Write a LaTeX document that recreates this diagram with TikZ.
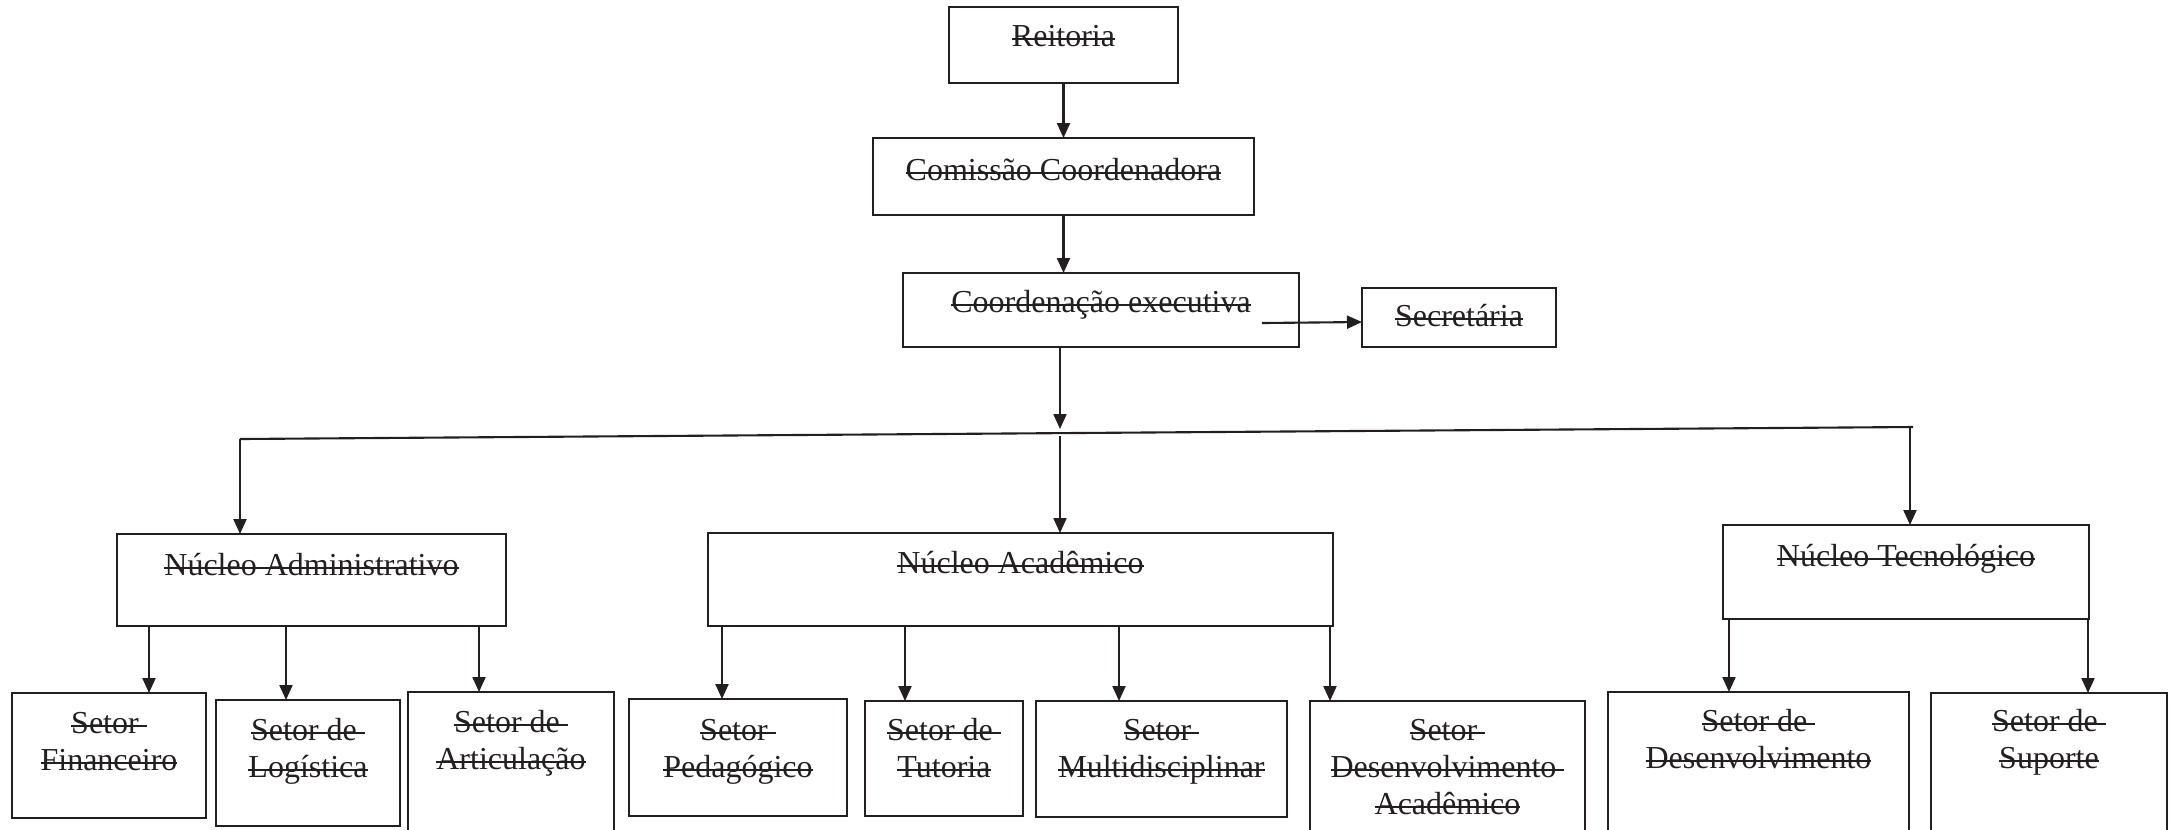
\documentclass[tikz,border=0pt]{standalone}
\usepackage{fontspec}
\setmainfont{Liberation Serif}
\usetikzlibrary{arrows.meta}
\definecolor{ink}{RGB}{35,31,32}
\newsavebox\strkbox
\newcommand\strk[1]{\sbox\strkbox{#1}\rlap{\rule[0.45ex]{\wd\strkbox}{0.55pt}}\usebox\strkbox}
\newcommand\bx[5]{\node[bxs, minimum width={(#4-#2)*0.01cm}, minimum height={(#5-#3)*0.01cm}] (#1) at ({(#2+#4)/2},{(#3+#5)/2}) {};}
\newcommand\tx[4]{\node[txs] (#1) at (#2,#3) {#4};}
\begin{document}
\begin{tikzpicture}[x=0.01cm,y=-0.01cm,
 bxs/.style={draw=ink, line width=0.6pt, inner sep=0pt, outer sep=0pt, rectangle},
 txs/.style={anchor=north, inner sep=0pt, align=center, font=\fontsize{9.1}{10.5}\selectfont, text=ink},
 arr/.style={draw=ink, line width=0.6pt, -{Triangle[length=0.15cm,width=0.13cm]}},
 ln/.style={draw=ink, line width=0.6pt}]
\clip (0,0) rectangle (2174,829);
% boxes
\bx{reit}{949}{7}{1178}{83}
\bx{com}{873}{138}{1254}{215}
\bx{coord}{903}{273}{1299}{347}
\bx{sec}{1362}{288}{1556}{347}
\bx{adm}{117}{534}{506}{626}
\bx{acad}{708}{533}{1333}{626}
\bx{tec}{1723}{525}{2089}{619}
\bx{fin}{12}{693}{206}{818}
\bx{log}{216}{700}{400}{826}
\bx{art}{408}{692}{614}{880}
\bx{ped}{629}{699}{847}{816}
\bx{tut}{865}{701}{1023}{816}
\bx{mul}{1036}{701}{1287}{817}
\bx{dac}{1310}{701}{1585}{880}
\bx{dev}{1608}{692}{1909}{880}
\bx{sup}{1931}{693}{2167}{880}
% texts
\tx{treit}{1063.5}{20}{\strut\strk{Reitoria}}
\tx{tcom}{1063.5}{154}{\strut\strk{Comissão Coordenadora}}
\tx{tcoord}{1101}{286}{\strut\strk{Coordenação executiva}}
\tx{tsec}{1459}{300}{\strut\strk{Secretária}}
\tx{tadm}{311.5}{549}{\strut\strk{Núcleo Administrativo}}
\tx{tacad}{1020.5}{547}{\strut\strk{Núcleo Acadêmico}}
\tx{ttec}{1906}{540}{\strut\strk{Núcleo Tecnológico}}
\tx{tfin}{109}{707}{\strut\strk{Setor\ }\\\strk{Financeiro}}
\tx{tlog}{308}{714}{\strut\strk{Setor de\ }\\\strk{Logística}}
\tx{tart}{511}{706}{\strut\strk{Setor de\ }\\\strk{Articulação}}
\tx{tped}{738}{714}{\strut\strk{Setor\ }\\\strk{Pedagógico}}
\tx{ttut}{944}{714}{\strut\strk{Setor de\ }\\\strk{Tutoria}}
\tx{tmul}{1161.5}{714}{\strut\strk{Setor\ }\\\strk{Multidisciplinar}}
\tx{tdac}{1447.5}{714}{\strut\strk{Setor\ }\\\strk{Desenvolvimento\ }\\\strk{Acadêmico}}
\tx{tdev}{1758.5}{705}{\strut\strk{Setor de\ }\\\strk{Desenvolvimento}}
\tx{tsup}{2049}{705}{\strut\strk{Setor de\ }\\\strk{Suporte}}
% connectors
\draw[arr] (reit.south) -- (com.north);
\draw[arr] (com.south) -- (com.south |- coord.north);
\draw[arr] ([xshift=-0.37cm,yshift=-0.13cm]coord.east) -- ([yshift=-0.045cm]sec.west);
\coordinate (hl) at (240,439);
\coordinate (hm) at (1060,433);
\coordinate (hr) at (1910,427);
\coordinate (hre) at (1913,427);
\draw[arr] (coord.south -| hm) -- ([yshift=0.04cm]hm);
\draw[ln] (hl) -- (hre);
\draw[arr] (hl) -- (hl |- adm.north);
\draw[arr] ([yshift=-0.03cm]hm) -- (hm |- acad.north);
\draw[arr] (hr) -- (hr |- tec.north);
\coordinate (c1) at (149,0);
\coordinate (c2) at (286,0);
\coordinate (c3) at (479,0);
\coordinate (c4) at (722,0);
\coordinate (c5) at (905,0);
\coordinate (c6) at (1119,0);
\coordinate (c7) at (1330,0);
\coordinate (c8) at (1729,0);
\coordinate (c9) at (2088,0);
\draw[arr] (adm.south -| c1) -- (fin.north -| c1);
\draw[arr] (adm.south -| c2) -- (log.north -| c2);
\draw[arr] (adm.south -| c3) -- (art.north -| c3);
\draw[arr] (acad.south -| c4) -- (ped.north -| c4);
\draw[arr] (acad.south -| c5) -- (tut.north -| c5);
\draw[arr] (acad.south -| c6) -- (mul.north -| c6);
\draw[arr] (acad.south -| c7) -- (dac.north -| c7);
\draw[arr] (tec.south -| c8) -- (dev.north -| c8);
\draw[arr] (tec.south -| c9) -- (sup.north -| c9);
\end{tikzpicture}
\end{document}
